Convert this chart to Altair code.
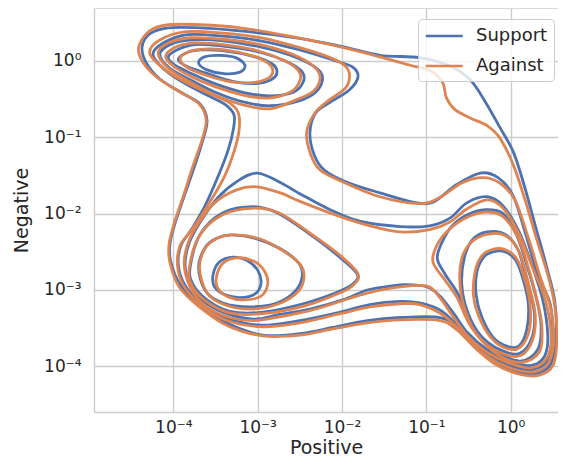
import altair as alt
import pandas as pd

# ---------------- values (log10 of the data) ----------------
SERIES = ["Support", "Against"]
COLORS = ["#4c72b0", "#dd8452"]
TICK_VALUES = [1e-4, 1e-3, 1e-2, 1e-1, 1.0]
TICK_LABELS = ["10⁻⁴", "10⁻³", "10⁻²", "10⁻¹", "10⁰"]
X_DOMAIN_LOG = [-4.94, 0.561]
Y_DOMAIN_LOG = [-4.596, 0.689]

# contour loops: (log10 Positive, log10 Negative)
SUPPORT_L1 = [(-4.37, 0.18), (-4.28, 0.35), (-4.06, 0.43), (-3.68, 0.43), (-3.21, 0.39), (-2.62, 0.31),
              (-2.02, 0.19), (-1.55, 0.07), (-1.08, 0.04), (-0.72, -0.07), (-0.48, -0.25), (-0.30, -0.54),
              (-0.13, -0.87), (0.03, -1.19), (0.16, -1.63), (0.29, -2.15), (0.42, -2.67), (0.52, -3.13),
              (0.54, -3.59), (0.48, -3.96), (0.31, -4.09), (0.07, -4.07), (-0.16, -3.95), (-0.40, -3.74),
              (-0.62, -3.49), (-0.84, -3.36), (-1.31, -3.36), (-1.70, -3.40), (-2.11, -3.49), (-2.50, -3.57),
              (-2.94, -3.59), (-3.35, -3.44), (-3.68, -3.21), (-3.92, -2.93), (-4.03, -2.63), (-4.04, -2.40),
              (-3.98, -2.13), (-3.87, -1.77), (-3.75, -1.39), (-3.65, -1.04), (-3.60, -0.78), (-3.68, -0.57),
              (-3.90, -0.42), (-4.16, -0.24), (-4.32, -0.03)]
SUPPORT_L2 = [(-4.24, 0.08), (-4.12, 0.23), (-3.83, 0.34), (-3.41, 0.32), (-2.97, 0.26), (-2.50, 0.14),
              (-2.11, 0.01), (-1.88, -0.08), (-1.81, -0.21), (-1.91, -0.38), (-2.12, -0.53), (-2.31, -0.68),
              (-2.38, -0.94), (-2.33, -1.23), (-2.21, -1.43), (-1.94, -1.59), (-1.55, -1.73), (-1.16, -1.85),
              (-0.92, -1.85), (-0.64, -1.62), (-0.36, -1.47), (-0.15, -1.53), (0.03, -1.77), (0.18, -2.28),
              (0.32, -2.80), (0.47, -3.19), (0.49, -3.63), (0.43, -3.93), (0.26, -4.04), (0.02, -4.00),
              (-0.25, -3.86), (-0.48, -3.65), (-0.66, -3.43), (-0.84, -3.26), (-1.08, -3.17), (-1.31, -3.15),
              (-1.67, -3.19), (-2.02, -3.29), (-2.50, -3.40), (-2.97, -3.46), (-3.39, -3.36), (-3.68, -3.17),
              (-3.87, -2.92), (-3.94, -2.67), (-3.91, -2.42), (-3.78, -2.20), (-3.62, -1.89), (-3.46, -1.49),
              (-3.35, -1.17), (-3.29, -0.91), (-3.28, -0.71), (-3.39, -0.57), (-3.60, -0.45), (-3.86, -0.30),
              (-4.10, -0.12)]
SUPPORT_L3 = [(-3.01, -1.47), (-2.77, -1.57), (-2.50, -1.74), (-2.14, -1.95), (-1.79, -2.10), (-1.31, -2.17),
              (-0.96, -2.16), (-0.72, -2.06), (-0.52, -1.86), (-0.28, -1.78), (-0.09, -1.90), (0.10, -2.24),
              (0.25, -2.67), (0.38, -3.13), (0.44, -3.59), (0.40, -3.87), (0.23, -3.99), (-0.03, -3.92),
              (-0.28, -3.78), (-0.51, -3.56), (-0.68, -3.30), (-0.84, -3.08), (-0.99, -2.96), (-1.25, -2.93),
              (-1.43, -2.95), (-1.70, -3.00), (-1.99, -3.13), (-2.38, -3.25), (-2.74, -3.32), (-3.05, -3.38),
              (-3.39, -3.30), (-3.65, -3.14), (-3.80, -2.93), (-3.86, -2.67), (-3.81, -2.38), (-3.68, -2.11),
              (-3.47, -1.79), (-3.23, -1.57)]
SUPPORT_TL3 = [(-4.16, 0.08), (-4.04, 0.21), (-3.80, 0.27), (-3.41, 0.26), (-2.97, 0.18), (-2.56, 0.05),
               (-2.30, -0.10), (-2.23, -0.23), (-2.31, -0.41), (-2.52, -0.53), (-2.85, -0.59), (-3.17, -0.54),
               (-3.51, -0.41), (-3.80, -0.25), (-4.04, -0.10)]
SUPPORT_TL4 = [(-4.06, 0.05), (-3.94, 0.15), (-3.74, 0.21), (-3.41, 0.19), (-2.97, 0.11), (-2.64, -0.02),
               (-2.47, -0.15), (-2.46, -0.28), (-2.57, -0.41), (-2.85, -0.46), (-3.15, -0.42), (-3.51, -0.30),
               (-3.78, -0.17), (-3.98, -0.06)]
SUPPORT_TL5 = [(-3.94, 0.01), (-3.85, 0.10), (-3.68, 0.14), (-3.41, 0.13), (-3.03, 0.05), (-2.83, -0.04),
               (-2.77, -0.15), (-2.84, -0.25), (-3.03, -0.30), (-3.30, -0.27), (-3.59, -0.17), (-3.83, -0.08)]
SUPPORT_TL6 = [(-3.70, -0.03), (-3.63, 0.05), (-3.45, 0.07), (-3.26, 0.04), (-3.15, -0.06), (-3.21, -0.15),
               (-3.40, -0.17), (-3.60, -0.12)]
SUPPORT_BL4 = [(-3.80, -2.70), (-3.68, -2.27), (-3.41, -1.99), (-3.05, -1.91), (-2.77, -1.99), (-2.42, -2.24),
               (-2.05, -2.55), (-1.82, -2.79), (-1.88, -2.93), (-2.08, -3.04), (-2.46, -3.18), (-2.94, -3.29),
               (-3.33, -3.28), (-3.60, -3.13), (-3.77, -2.92)]
SUPPORT_BL5 = [(-3.70, -2.70), (-3.62, -2.44), (-3.48, -2.32), (-3.30, -2.28), (-3.01, -2.33), (-2.73, -2.46),
               (-2.52, -2.64), (-2.47, -2.81), (-2.55, -3.01), (-2.77, -3.17), (-3.09, -3.22), (-3.41, -3.17),
               (-3.62, -3.01)]
SUPPORT_BL6 = [(-3.53, -2.81), (-3.46, -2.64), (-3.30, -2.57), (-3.13, -2.61), (-3.00, -2.74), (-2.96, -2.91),
               (-3.03, -3.05), (-3.21, -3.10), (-3.39, -3.06), (-3.51, -2.96)]
SUPPORT_R4 = [(-0.30, -1.95), (-0.09, -2.00), (0.07, -2.28), (0.19, -2.67), (0.30, -3.09), (0.36, -3.46),
              (0.32, -3.78), (0.11, -3.93), (-0.19, -3.78), (-0.46, -3.46), (-0.62, -3.06), (-0.78, -2.79),
              (-0.87, -2.59), (-0.82, -2.39), (-0.70, -2.17), (-0.52, -2.02)]
SUPPORT_R5 = [(-0.28, -2.24), (-0.07, -2.27), (0.09, -2.48), (0.19, -2.88), (0.28, -3.29), (0.25, -3.63),
              (0.10, -3.83), (-0.13, -3.78), (-0.36, -3.59), (-0.51, -3.29), (-0.58, -2.93), (-0.55, -2.58),
              (-0.45, -2.34)]
SUPPORT_R6 = [(-0.21, -2.50), (-0.07, -2.50), (0.06, -2.61), (0.15, -2.87), (0.21, -3.19), (0.19, -3.52),
              (0.10, -3.73), (-0.03, -3.74), (-0.20, -3.63), (-0.34, -3.36), (-0.41, -3.06), (-0.40, -2.76),
              (-0.32, -2.57)]

AGAINST_L1 = [(-4.41, 0.18), (-4.28, 0.39), (-4.06, 0.47), (-3.68, 0.47), (-3.21, 0.43), (-2.62, 0.32),
              (-2.02, 0.18), (-1.55, 0.05), (-1.19, -0.06), (-0.96, -0.13), (-0.81, -0.28), (-0.76, -0.49),
              (-0.66, -0.64), (-0.48, -0.75), (-0.28, -0.85), (-0.13, -1.01), (0.03, -1.36), (0.17, -1.82),
              (0.31, -2.34), (0.44, -2.80), (0.52, -3.19), (0.55, -3.62), (0.50, -3.99), (0.32, -4.12),
              (0.07, -4.09), (-0.17, -3.98), (-0.41, -3.77), (-0.64, -3.52), (-0.84, -3.40), (-1.31, -3.39),
              (-1.70, -3.43), (-2.11, -3.51), (-2.50, -3.59), (-2.94, -3.60), (-3.35, -3.47), (-3.68, -3.23),
              (-3.93, -2.96), (-4.04, -2.64), (-4.05, -2.40), (-3.99, -2.13), (-3.88, -1.77), (-3.77, -1.39),
              (-3.66, -1.04), (-3.61, -0.78), (-3.69, -0.57), (-3.92, -0.41), (-4.18, -0.23), (-4.36, -0.02)]
AGAINST_L2 = [(-4.28, 0.10), (-4.16, 0.27), (-3.85, 0.38), (-3.41, 0.36), (-2.97, 0.30), (-2.50, 0.17),
              (-2.14, 0.04), (-1.96, -0.07), (-1.91, -0.20), (-1.96, -0.36), (-2.17, -0.53), (-2.33, -0.70),
              (-2.42, -0.95), (-2.37, -1.23), (-2.26, -1.43), (-2.02, -1.57), (-1.55, -1.78), (-1.08, -1.87),
              (-0.84, -1.79), (-0.58, -1.60), (-0.33, -1.53), (-0.13, -1.60), (0.05, -1.82), (0.21, -2.32),
              (0.35, -2.83), (0.47, -3.22), (0.51, -3.63), (0.45, -3.95), (0.28, -4.07), (0.02, -4.03),
              (-0.25, -3.89), (-0.48, -3.68), (-0.66, -3.46), (-0.84, -3.30), (-1.08, -3.19), (-1.31, -3.18),
              (-1.67, -3.22), (-2.02, -3.31), (-2.50, -3.43), (-2.97, -3.48), (-3.39, -3.39), (-3.68, -3.19),
              (-3.88, -2.94), (-3.95, -2.68), (-3.92, -2.42), (-3.78, -2.21), (-3.60, -1.91), (-3.40, -1.53),
              (-3.28, -1.19), (-3.22, -0.91), (-3.23, -0.68), (-3.35, -0.54), (-3.59, -0.42), (-3.86, -0.28),
              (-4.12, -0.10)]
AGAINST_L3 = [(-3.01, -1.65), (-2.73, -1.73), (-2.50, -1.84), (-2.02, -2.04), (-1.67, -2.16), (-1.31, -2.24),
              (-0.96, -2.21), (-0.72, -2.11), (-0.52, -1.94), (-0.28, -1.82), (-0.09, -1.93), (0.10, -2.27),
              (0.26, -2.71), (0.41, -3.13), (0.48, -3.59), (0.43, -3.89), (0.24, -4.02), (-0.03, -3.95),
              (-0.29, -3.81), (-0.52, -3.59), (-0.70, -3.32), (-0.84, -3.10), (-0.99, -2.95), (-1.31, -2.96),
              (-1.70, -3.04), (-2.02, -3.15), (-2.38, -3.27), (-2.74, -3.35), (-3.05, -3.40), (-3.39, -3.34),
              (-3.65, -3.18), (-3.80, -2.96), (-3.87, -2.68), (-3.83, -2.40), (-3.71, -2.14), (-3.51, -1.86),
              (-3.25, -1.69)]
AGAINST_TL3 = [(-4.18, 0.10), (-4.06, 0.23), (-3.80, 0.30), (-3.41, 0.28), (-2.97, 0.21), (-2.58, 0.08),
               (-2.33, -0.08), (-2.26, -0.23), (-2.34, -0.40), (-2.54, -0.51), (-2.85, -0.63), (-3.17, -0.58),
               (-3.51, -0.45), (-3.80, -0.28), (-4.06, -0.10)]
AGAINST_TL4 = [(-4.09, 0.06), (-3.97, 0.18), (-3.76, 0.23), (-3.41, 0.21), (-3.00, 0.13), (-2.66, -0.01),
               (-2.51, -0.14), (-2.50, -0.27), (-2.61, -0.41), (-2.87, -0.49), (-3.17, -0.45), (-3.53, -0.33),
               (-3.80, -0.20), (-4.00, -0.07)]
AGAINST_TL5 = [(-3.92, 0.02), (-3.83, 0.11), (-3.65, 0.15), (-3.39, 0.14), (-3.05, 0.06), (-2.88, -0.03),
               (-2.82, -0.14), (-2.89, -0.24), (-3.09, -0.29), (-3.35, -0.27), (-3.61, -0.19), (-3.82, -0.10)]
AGAINST_BL4 = [(-3.81, -2.71), (-3.69, -2.29), (-3.42, -2.02), (-3.05, -1.93), (-2.75, -1.99), (-2.40, -2.24),
               (-2.02, -2.55), (-1.81, -2.79), (-1.87, -2.94), (-2.07, -3.06), (-2.45, -3.21), (-2.94, -3.31),
               (-3.33, -3.30), (-3.61, -3.15), (-3.78, -2.94)]
AGAINST_BL5 = [(-3.69, -2.71), (-3.62, -2.45), (-3.47, -2.32), (-3.28, -2.28), (-2.98, -2.33), (-2.71, -2.48),
               (-2.50, -2.66), (-2.45, -2.83), (-2.52, -3.02), (-2.75, -3.18), (-3.08, -3.25), (-3.40, -3.19),
               (-3.60, -3.04)]
AGAINST_BL6 = [(-3.49, -2.84), (-3.42, -2.66), (-3.26, -2.58), (-3.05, -2.62), (-2.92, -2.75), (-2.88, -2.92),
               (-2.96, -3.08), (-3.16, -3.13), (-3.35, -3.09), (-3.47, -2.98)]
AGAINST_R4 = [(-0.30, -1.98), (-0.09, -2.04), (0.09, -2.32), (0.21, -2.71), (0.31, -3.12), (0.37, -3.48),
              (0.34, -3.81), (0.11, -3.95), (-0.20, -3.81), (-0.47, -3.48), (-0.64, -3.09), (-0.80, -2.84),
              (-0.92, -2.64), (-0.89, -2.45), (-0.76, -2.24), (-0.54, -2.06)]
AGAINST_R5 = [(-0.27, -2.27), (-0.06, -2.29), (0.10, -2.50), (0.21, -2.91), (0.29, -3.31), (0.26, -3.65),
              (0.11, -3.86), (-0.14, -3.81), (-0.38, -3.61), (-0.53, -3.30), (-0.60, -2.94), (-0.58, -2.59),
              (-0.46, -2.37)]
AGAINST_R6 = [(-0.22, -2.47), (-0.07, -2.47), (0.07, -2.59), (0.17, -2.87), (0.23, -3.19), (0.22, -3.53),
              (0.11, -3.75), (-0.03, -3.77), (-0.21, -3.65), (-0.36, -3.39), (-0.44, -3.08), (-0.42, -2.75),
              (-0.34, -2.55)]

SUPPORT_LOOPS = {"L1": SUPPORT_L1, "L2": SUPPORT_L2, "L3": SUPPORT_L3,
                 "TL3": SUPPORT_TL3, "TL4": SUPPORT_TL4, "TL5": SUPPORT_TL5, "TL6": SUPPORT_TL6,
                 "BL4": SUPPORT_BL4, "BL5": SUPPORT_BL5, "BL6": SUPPORT_BL6,
                 "R4": SUPPORT_R4, "R5": SUPPORT_R5, "R6": SUPPORT_R6}
AGAINST_LOOPS = {"L1": AGAINST_L1, "L2": AGAINST_L2, "L3": AGAINST_L3,
                 "TL3": AGAINST_TL3, "TL4": AGAINST_TL4, "TL5": AGAINST_TL5,
                 "BL4": AGAINST_BL4, "BL5": AGAINST_BL5, "BL6": AGAINST_BL6,
                 "R4": AGAINST_R4, "R5": AGAINST_R5, "R6": AGAINST_R6}


def build(series, loops):
    rows = []
    for name, pts in loops.items():
        for i, (lx, ly) in enumerate(pts):
            rows.append({"series": series, "loop": f"{series}-{name}", "i": i,
                         "Positive": 10 ** lx, "Negative": 10 ** ly})
    return pd.DataFrame(rows)


sup_df = build("Support", SUPPORT_LOOPS)
ag_df = build("Against", AGAINST_LOOPS)

label_expr = " : ".join(
    f"datum.value < {v * 5:g} ? '{t}'" for v, t in zip(TICK_VALUES[:-1], TICK_LABELS[:-1])
) + f" : '{TICK_LABELS[-1]}'"

W, H = 464, 404
INK = "#262626"
GRID = "#cccccc"

x_enc = alt.X("Positive:Q",
              scale=alt.Scale(type="log", domain=[10 ** X_DOMAIN_LOG[0], 10 ** X_DOMAIN_LOG[1]]),
              axis=alt.Axis(values=TICK_VALUES, labelExpr=label_expr, title="Positive",
                            grid=True, ticks=False, labelPadding=7, titlePadding=3,
                            labelFlush=False, labelOverlap=False))
y_enc = alt.Y("Negative:Q",
              scale=alt.Scale(type="log", domain=[10 ** Y_DOMAIN_LOG[0], 10 ** Y_DOMAIN_LOG[1]]),
              axis=alt.Axis(values=TICK_VALUES, labelExpr=label_expr, title="Negative",
                            grid=True, ticks=False, labelPadding=13, titlePadding=12,
                            labelFlush=False, labelOverlap=False))
legend = alt.Legend(title=None, orient="none", legendX=324, legendY=11,
                    symbolType="M-1,0H3", symbolSize=342, symbolStrokeWidth=2.7,
                    labelFontSize=18, labelFont="DejaVu Sans", labelColor=INK, labelOffset=30,
                    fillColor="rgba(255,255,255,0.8)", strokeColor=GRID, padding=6,
                    rowPadding=10, cornerRadius=4)
color_enc = alt.Color("series:N", scale=alt.Scale(domain=SERIES, range=COLORS), legend=legend)


def contour_layer(df):
    return alt.Chart(df).mark_line(
        interpolate="cardinal-closed", strokeWidth=2.8, strokeCap="round", strokeJoin="round"
    ).encode(x=x_enc, y=y_enc, color=color_enc, detail="loop:N", order="i:Q")


top_border = alt.Chart(alt.Data(values=[{"k": 0}])).mark_rule(color=GRID, strokeWidth=1.4).encode(
    x=alt.value(0), x2=alt.value(W), y=alt.value(0))

chart = alt.layer(top_border, contour_layer(sup_df), contour_layer(ag_df)).properties(
    width=W, height=H,
    padding={"left": 86, "top": 0, "right": 0, "bottom": 50},
    autosize=alt.AutoSizeParams(type="none"),
).configure_axis(
    labelFont="DejaVu Sans", titleFont="DejaVu Sans", labelFontSize=17, titleFontSize=19,
    labelColor=INK, titleColor=INK, titleFontWeight="normal",
    gridColor=GRID, gridWidth=1.4, domainColor=GRID, domainWidth=1.4,
).configure_view(stroke="transparent")

chart.save("out.html", embed_options={"renderer": "svg", "actions": False})
